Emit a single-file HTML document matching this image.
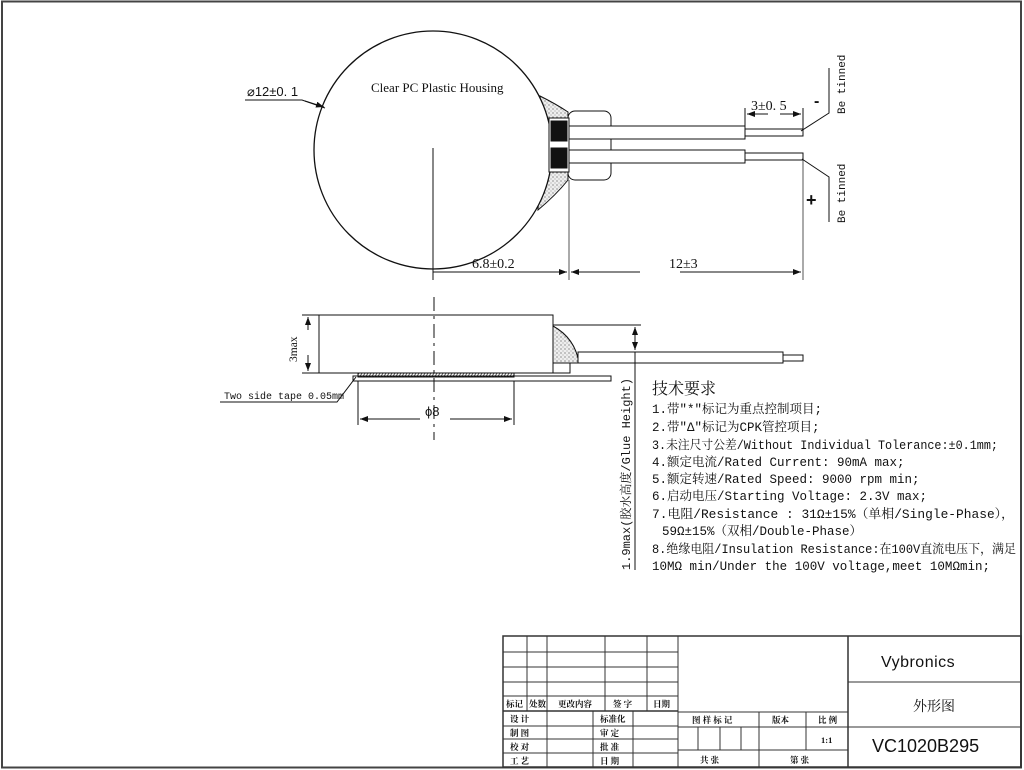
<!DOCTYPE html>
<html><head><meta charset="utf-8"><style>
html,body{margin:0;padding:0;background:#fff;width:1024px;height:770px;overflow:hidden}
svg{display:block}
.t{font-family:"Liberation Serif","Noto Serif CJK SC",serif;fill:#111}
.m{font-family:"Liberation Mono","Noto Serif CJK SC",monospace;fill:#111}
.s{font-family:"Liberation Sans","Noto Sans CJK SC",sans-serif;fill:#111}
</style></head><body>
<svg width="1024" height="770" viewBox="0 0 1024 770" xmlns="http://www.w3.org/2000/svg">
<defs>
<pattern id="dots" width="4" height="4" patternUnits="userSpaceOnUse"><rect width="4" height="4" fill="#eee"/><circle cx="1" cy="1" r="0.6" fill="#555"/><circle cx="3" cy="3" r="0.5" fill="#777"/></pattern>
<pattern id="hatch" width="3" height="4" patternUnits="userSpaceOnUse"><line x1="0" y1="4" x2="3" y2="0" stroke="#333" stroke-width="0.8"/></pattern>
<marker id="ar" markerWidth="8" markerHeight="6" refX="8" refY="3" orient="auto"><path d="M0,0 L8,3 L0,6z" fill="#111"/></marker>
</defs>
<rect x="2" y="1.5" width="1019" height="766" fill="none" stroke="#444" stroke-width="2"/>
<g stroke="#111" fill="none" stroke-width="1">
<path d="M540,96 Q556,104 568,112 L568,180 Q556,195 538,210 Z" fill="url(#dots)"/>
<circle cx="433" cy="150" r="119" fill="#fff" stroke-width="1.3"/>
<rect x="568" y="111" width="43" height="69" rx="7" fill="#fff"/>
<rect x="549" y="118" width="20" height="54" fill="#fff"/>
<rect x="551" y="121" width="16" height="20" fill="#111"/>
<rect x="551" y="148" width="16" height="20" fill="#111"/>
<rect x="569" y="126" width="176" height="13" fill="#fff"/>
<rect x="569" y="150" width="176" height="13" fill="#fff"/>
<rect x="745" y="129" width="58" height="7" fill="#fff"/>
<rect x="745" y="153" width="58" height="7" fill="#fff"/>
<line x1="433" y1="148" x2="433" y2="280"/>
<line x1="569" y1="180" x2="569" y2="280" stroke="#555"/>
<line x1="803" y1="160" x2="803" y2="280" stroke="#555"/>
<line x1="433" y1="272" x2="567" y2="272" marker-end="url(#ar)"/>
<line x1="640" y1="272" x2="571" y2="272" marker-end="url(#ar)"/>
<line x1="680" y1="272" x2="801" y2="272" marker-end="url(#ar)"/>
<line x1="745" y1="108" x2="745" y2="126"/>
<line x1="803" y1="108" x2="803" y2="129"/>
<line x1="780" y1="114" x2="801" y2="114" marker-end="url(#ar)"/>
<line x1="768" y1="114" x2="747" y2="114" marker-end="url(#ar)"/>
<polyline points="829,68 829,113 801,131"/>
<polyline points="829,222 829,177 802,159"/>
<polyline points="245,100 302,100 325,108"/>
<line x1="305" y1="101" x2="324" y2="107" marker-end="url(#ar)"/>
<path d="M553,326 Q575,338 579,363 L553,363 Z" fill="url(#dots)"/>
<rect x="319" y="315" width="234" height="58" fill="#fff"/>
<line x1="553" y1="325" x2="641" y2="325"/>
<rect x="578" y="352" width="205" height="11" fill="#fff"/>
<rect x="783" y="355" width="20" height="6" fill="#fff"/>
<rect x="553" y="363" width="17" height="10"/>
<rect x="353" y="376" width="258" height="5" fill="#fff"/>
<rect x="358" y="373" width="156" height="4" fill="url(#hatch)"/>
<line x1="434" y1="297" x2="434" y2="440" stroke-dasharray="14,5,3,5"/>
<line x1="308" y1="330" x2="308" y2="317" marker-end="url(#ar)"/>
<line x1="308" y1="355" x2="308" y2="371" marker-end="url(#ar)"/>
<line x1="302" y1="315" x2="319" y2="315"/>
<line x1="302" y1="373" x2="319" y2="373"/>
<line x1="358" y1="381" x2="358" y2="425"/>
<line x1="514" y1="381" x2="514" y2="425"/>
<line x1="420" y1="419" x2="360" y2="419" marker-end="url(#ar)"/>
<line x1="450" y1="419" x2="512" y2="419" marker-end="url(#ar)"/>
<polyline points="220,402 337,402 356,377"/>
<line x1="635" y1="340" x2="635" y2="327" marker-end="url(#ar)"/>
<line x1="635" y1="340" x2="635" y2="350" marker-end="url(#ar)"/>
<line x1="635" y1="352" x2="635" y2="570"/>
</g>
<text x="247" y="96" class="s" font-size="13">⌀12±0. 1</text>
<text x="371" y="92" class="t" font-size="13">Clear PC Plastic Housing</text>
<text x="472" y="268" class="t" font-size="14">6.8±0.2</text>
<text x="669" y="268" class="t" font-size="14">12±3</text>
<text x="751" y="110" class="t" font-size="14">3±0. 5</text>
<text x="814" y="106" class="s" font-size="16" font-weight="bold">-</text>
<text x="806" y="206" class="s" font-size="18" font-weight="bold">+</text>
<text transform="translate(845,114) rotate(-90)" class="m" font-size="11">Be tinned</text>
<text transform="translate(845,223) rotate(-90)" class="m" font-size="11">Be tinned</text>
<text transform="translate(297,362) rotate(-90)" class="t" font-size="11.5">3max</text>
<text x="224" y="399" class="m" font-size="10">Two side tape 0.05mm</text>
<text x="425" y="416" class="s" font-size="13">ϕ8</text>
<text transform="translate(630,570) rotate(-90)" class="m" font-size="12" textLength="192" lengthAdjust="spacingAndGlyphs">1.9max(胶水高度/Glue Height)</text>
<g class="m" font-size="12.5">
<text x="652" y="394" font-size="16" class="t">技术要求</text>
<text x="652" y="413">1.带"*"标记为重点控制项目;</text>
<text x="652" y="431">2.带"Δ"标记为CPK管控项目;</text>
<text x="652" y="449" textLength="346" lengthAdjust="spacingAndGlyphs">3.未注尺寸公差/Without Individual Tolerance:±0.1mm;</text>
<text x="652" y="466">4.额定电流/Rated Current: 90mA max;</text>
<text x="652" y="483">5.额定转速/Rated Speed: 9000 rpm min;</text>
<text x="652" y="500">6.启动电压/Starting Voltage: 2.3V max;</text>
<text x="652" y="518" textLength="362" lengthAdjust="spacingAndGlyphs">7.电阻/Resistance  : 31Ω±15%（单相/Single-Phase），</text>
<text x="662" y="535">59Ω±15%（双相/Double-Phase）</text>
<text x="652" y="553" textLength="364" lengthAdjust="spacingAndGlyphs">8.绝缘电阻/Insulation Resistance:在100V直流电压下，满足</text>
<text x="652" y="570" textLength="338" lengthAdjust="spacingAndGlyphs">10MΩ min/Under the 100V voltage,meet 10MΩmin;</text>
</g>
<g stroke="#333" fill="none" stroke-width="1">
<rect x="503" y="636" width="518" height="131" stroke-width="1.5"/>
<line x1="678" y1="636" x2="678" y2="767"/>
<line x1="848" y1="636" x2="848" y2="767" stroke-width="1.5"/>
<line x1="503" y1="652" x2="678" y2="652"/>
<line x1="503" y1="667" x2="678" y2="667"/>
<line x1="503" y1="682" x2="678" y2="682"/>
<line x1="503" y1="696" x2="678" y2="696"/>
<line x1="503" y1="711" x2="678" y2="711" stroke-width="1.4"/>
<line x1="503" y1="726" x2="678" y2="726"/>
<line x1="503" y1="739" x2="678" y2="739"/>
<line x1="503" y1="753" x2="678" y2="753"/>
<line x1="527" y1="636" x2="527" y2="711"/>
<line x1="547" y1="636" x2="547" y2="767"/>
<line x1="605" y1="636" x2="605" y2="711"/>
<line x1="647" y1="636" x2="647" y2="711"/>
<line x1="593" y1="711" x2="593" y2="767"/>
<line x1="633" y1="711" x2="633" y2="767"/>
<line x1="678" y1="712" x2="848" y2="712"/>
<line x1="678" y1="727" x2="848" y2="727"/>
<line x1="678" y1="750" x2="848" y2="750"/>
<line x1="759" y1="712" x2="759" y2="767"/>
<line x1="806" y1="712" x2="806" y2="750"/>
<line x1="698" y1="727" x2="698" y2="750"/>
<line x1="720" y1="727" x2="720" y2="750"/>
<line x1="741" y1="727" x2="741" y2="750"/>
<line x1="848" y1="682" x2="1021" y2="682"/>
<line x1="848" y1="727" x2="1021" y2="727"/>
</g>
<g class="t" font-size="8.5" font-weight="bold">
<text x="506" y="707">标记</text><text x="529" y="707">处数</text><text x="558" y="707">更改内容</text>
<text x="613" y="707">签 字</text><text x="653" y="707">日期</text>
<text x="510" y="722">设 计</text><text x="600" y="722">标准化</text>
<text x="510" y="736">制 图</text><text x="600" y="736">审 定</text>
<text x="510" y="750">校 对</text><text x="600" y="750">批 准</text>
<text x="510" y="764">工 艺</text><text x="600" y="764">日 期</text>
<text x="692" y="723">图 样 标 记</text><text x="772" y="723">版本</text><text x="818" y="723">比 例</text>
<text x="821" y="743">1:1</text>
<text x="700" y="763">共  张</text><text x="790" y="763">第  张</text>
</g>
<text x="881" y="667" class="s" font-size="16" letter-spacing="0.5">Vybronics</text>
<text x="913" y="711" class="t" font-size="14">外形图</text>
<text x="872" y="752" class="s" font-size="18">VC1020B295</text>
</svg>
</body></html>
